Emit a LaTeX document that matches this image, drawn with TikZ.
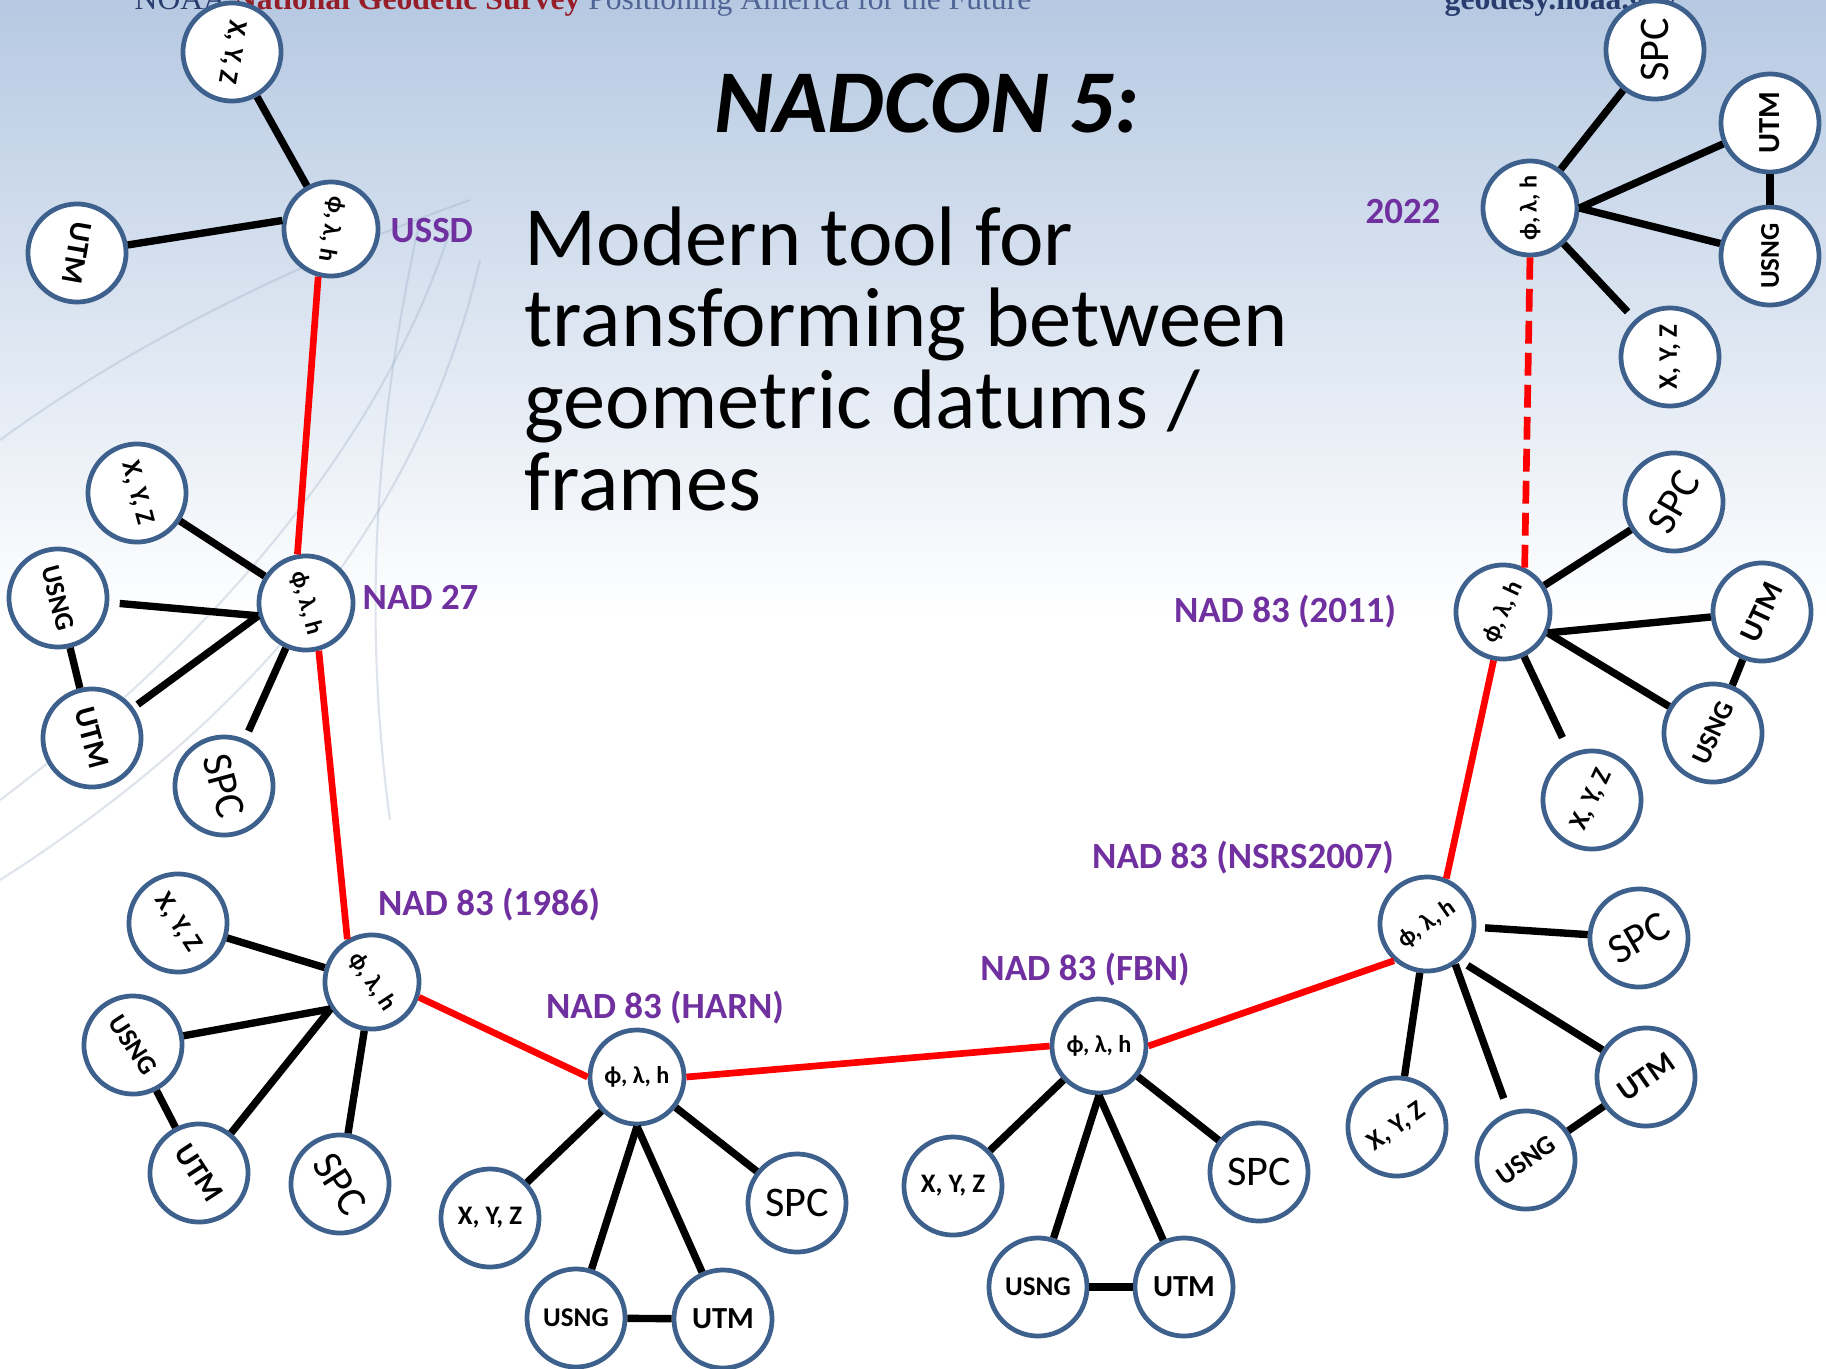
\documentclass[tikz,border=0pt]{standalone}
\usepackage{fontspec}
\setmainfont{Carlito}
\newfontfamily\headfont{Liberation Serif}
\usetikzlibrary{positioning}
\definecolor{ringblue}{RGB}{62,96,140}
\definecolor{datumpurple}{RGB}{112,48,160}
\definecolor{skyblue}{RGB}{182,201,226}
\definecolor{globeline}{RGB}{150,168,195}
\definecolor{headnavy}{RGB}{40,60,110}
\definecolor{headred}{RGB}{150,30,40}
\definecolor{headslate}{RGB}{80,100,150}

\tikzset{
  hub/.style={circle, draw=ringblue, line width=1.35pt, fill=white, inner sep=0pt,
    minimum size=0.94cm, font=\bfseries\fontsize{6.9}{8}\selectfont},
  leaf/.style={hub, minimum size=0.98cm},
  xyzleaf/.style={leaf, font=\bfseries\fontsize{7.6}{9}\selectfont},
  usngleaf/.style={leaf, font=\bfseries\fontsize{7.7}{9}\selectfont},
  utmleaf/.style={leaf, font=\bfseries\fontsize{8.7}{10}\selectfont},
  spcleaf/.style={leaf, font=\fontsize{12}{13}\selectfont},
  datum/.style={text=datumpurple, inner sep=0pt, font=\bfseries\fontsize{10.5}{12}\selectfont},
  link/.style={line width=2.1pt},
  shiftline/.style={red, line width=1.9pt},
  pendingline/.style={shiftline, dash pattern=on 6.5pt off 2.6pt},
  globe/.style={globeline, opacity=0.3, line width=0.6pt}
}

\begin{document}
\begin{tikzpicture}[x=0.01cm, y=-0.01cm]
  \useasboundingbox (0,0) rectangle (1826,1369);
  \clip (0,0) rectangle (1826,1369);
  \fill[white] (0,0) rectangle (1826,1369);
  \shade[top color=skyblue, bottom color=white] (0,0) rectangle (1826,620);
  \draw[globe] (0,440) .. controls (150,330) and (330,250) .. (470,200);
  \draw[globe] (0,800) .. controls (200,650) and (380,450) .. (450,230);
  \draw[globe] (0,880) .. controls (250,720) and (420,520) .. (480,260);
  \draw[globe] (420,220) .. controls (380,400) and (360,600) .. (390,820);

  \node[anchor=base west, inner sep=0pt, font=\headfont\fontsize{9}{10}\selectfont] (strap) at (134,9)
    {\textcolor{headnavy}{NOAA} \textcolor{headred}{\bfseries National Geodetic Survey} \textcolor{headslate}{Positioning America for the Future}};
  \node[anchor=base west, inner sep=0pt, font=\headfont\bfseries\fontsize{9}{10}\selectfont, text=headnavy] (site) at (1444,9) {geodesy.noaa.gov};

  \node[font=\bfseries\itshape\fontsize{25.5}{30}\selectfont] (title) at (927,103) {NADCON 5:};
  \node[anchor=north west, align=left, inner sep=0pt, font=\fontsize{24}{23.2}\selectfont] (blurb) at (524,206)
    {Modern tool for\\transforming between\\geometric datums /\\frames};

  \node[hub, rotate=-100] (ussd) at (331,229) {ϕ, λ, h};
  \node[xyzleaf, rotate=-100] (ussd-xyz) at (232,52) {X, Y, Z};
  \node[utmleaf, rotate=-100] (ussd-utm) at (77,253) {UTM};
  \node[datum, anchor=west] (ussd-name) at (390,231) {USSD};

  \node[hub, rotate=-75] (nad27) at (306,603) {ϕ, λ, h};
  \node[xyzleaf, rotate=-75] (nad27-xyz) at (137,493) {X, Y, Z};
  \node[usngleaf, rotate=-75] (nad27-usng) at (58,598) {USNG};
  \node[utmleaf, rotate=-75] (nad27-utm) at (92,738) {UTM};
  \node[spcleaf, rotate=-75] (nad27-spc) at (224,786) {SPC};
  \node[datum, anchor=west] (nad27-name) at (362,597) {NAD 27};

  \node[hub, rotate=-57] (n1986) at (372,982) {ϕ, λ, h};
  \node[xyzleaf, rotate=-57] (n1986-xyz) at (178,923) {X, Y, Z};
  \node[usngleaf, rotate=-57] (n1986-usng) at (133,1045) {USNG};
  \node[utmleaf, rotate=-57] (n1986-utm) at (199,1173) {UTM};
  \node[spcleaf, rotate=-57] (n1986-spc) at (340,1184) {SPC};
  \node[datum] (n1986-name) at (489,905) {NAD 83 (1986)};

  \node[hub] (harn) at (637,1077) {ϕ, λ, h};
  \node[xyzleaf] (harn-xyz) at (490,1218) {X, Y, Z};
  \node[usngleaf] (harn-usng) at (576,1318) {USNG};
  \node[utmleaf] (harn-utm) at (723,1319) {UTM};
  \node[spcleaf] (harn-spc) at (797,1203) {SPC};
  \node[datum] (harn-name) at (665,1008) {NAD 83 (HARN)};

  \node[hub] (fbn) at (1099,1046) {ϕ, λ, h};
  \node[xyzleaf] (fbn-xyz) at (953,1186) {X, Y, Z};
  \node[usngleaf] (fbn-usng) at (1038,1287) {USNG};
  \node[utmleaf] (fbn-utm) at (1184,1287) {UTM};
  \node[spcleaf] (fbn-spc) at (1259,1172) {SPC};
  \node[datum] (fbn-name) at (1085,970) {NAD 83 (FBN)};

  \node[hub, rotate=35] (nsrs) at (1427,924) {ϕ, λ, h};
  \node[xyzleaf, rotate=35] (nsrs-xyz) at (1397,1127) {X, Y, Z};
  \node[usngleaf, rotate=35] (nsrs-usng) at (1526,1160) {USNG};
  \node[utmleaf, rotate=35] (nsrs-utm) at (1646,1077) {UTM};
  \node[spcleaf, rotate=30] (nsrs-spc) at (1639,938) {SPC};
  \node[datum] (nsrs-name) at (1243,858) {NAD 83 (NSRS2007)};

  \node[hub, rotate=65] (n2011) at (1503,612) {ϕ, λ, h};
  \node[xyzleaf, rotate=65] (n2011-xyz) at (1592,800) {X, Y, Z};
  \node[usngleaf, rotate=65] (n2011-usng) at (1713,733) {USNG};
  \node[utmleaf, rotate=65] (n2011-utm) at (1762,612) {UTM};
  \node[spcleaf, rotate=60] (n2011-spc) at (1674,502) {SPC};
  \node[datum] (n2011-name) at (1285,612) {NAD 83 (2011)};

  \node[hub, rotate=90] (n2022) at (1530,208) {ϕ, λ, h};
  \node[xyzleaf, rotate=90] (n2022-xyz) at (1670,357) {X, Y, Z};
  \node[usngleaf, rotate=90] (n2022-usng) at (1770,256) {USNG};
  \node[utmleaf, rotate=90] (n2022-utm) at (1770,123) {UTM};
  \node[spcleaf, rotate=90] (n2022-spc) at (1655,50) {SPC};
  \node[datum] (n2022-name) at (1403,212) {2022};

  \draw[link] (ussd) -- (ussd-xyz);
  \draw[link] (ussd.south) -- (ussd-utm);

  \draw[link] (nad27) -- (nad27-xyz);
  \draw[link, shorten >=3pt] (nad27.south) -- (nad27-usng);
  \draw[link, shorten >=1.5pt] (nad27.south) -- (nad27-utm);
  \draw[link, shorten >=2.5pt] (nad27) -- (nad27-spc);
  \draw[link] (nad27-usng) -- (nad27-utm);

  \draw[link] (n1986) -- (n1986-xyz);
  \draw[link] (n1986.south) -- (n1986-usng);
  \draw[link] (n1986.south) -- (n1986-utm);
  \draw[link] (n1986) -- (n1986-spc);
  \draw[link] (n1986-usng) -- (n1986-utm);

  \draw[link] (harn) -- (harn-xyz);
  \draw[link] (harn.south) -- (harn-usng);
  \draw[link] (harn.south) -- (harn-utm);
  \draw[link] (harn) -- (harn-spc);
  \draw[link] (harn-usng) -- (harn-utm);

  \draw[link] (fbn) -- (fbn-xyz);
  \draw[link] (fbn.south) -- (fbn-usng);
  \draw[link] (fbn.south) -- (fbn-utm);
  \draw[link] (fbn) -- (fbn-spc);
  \draw[link] (fbn-usng) -- (fbn-utm);

  \draw[link] (nsrs) -- (nsrs-xyz);
  \draw[link, shorten >=4pt] (nsrs.south) -- (nsrs-usng);
  \draw[link, shorten <=2.5pt] (nsrs.-83) -- (nsrs-utm);
  \draw[link, shorten <=2.5pt] (nsrs) -- (nsrs-spc);
  \draw[link] (nsrs-usng) -- (nsrs-utm);

  \draw[link, shorten >=5pt] (n2011) -- (n2011-xyz);
  \draw[link] (n2011.south) -- (n2011-usng);
  \draw[link] (n2011.south) -- (n2011-utm);
  \draw[link] (n2011) -- (n2011-spc);
  \draw[link] (n2011-usng) -- (n2011-utm);

  \draw[link, shorten >=3pt] (n2022) -- (n2022-xyz);
  \draw[link] (n2022.south) -- (n2022-usng);
  \draw[link] (n2022.south) -- (n2022-utm);
  \draw[link] (n2022) -- (n2022-spc);
  \draw[link] (n2022-usng) -- (n2022-utm);

  \draw[shiftline] (ussd.-5) -- (nad27.175);
  \draw[shiftline] (nad27.0) -- (n1986.177);
  \draw[shiftline] (n1986.39) -- (harn.180);
  \draw[shiftline] (harn.east) -- (fbn.west);
  \draw[shiftline] (fbn.east) -- (nsrs.-167);
  \draw[shiftline] (nsrs.32) -- (n2011.-166);
  \draw[pendingline] (n2011.-1) -- (n2022.180);
\end{tikzpicture}
\end{document}
